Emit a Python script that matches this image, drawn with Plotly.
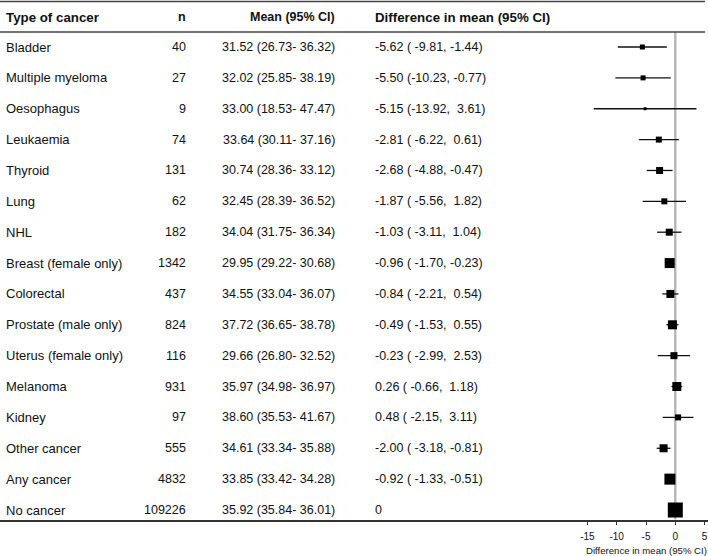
import plotly.graph_objects as go

cancer = ["Bladder", "Multiple myeloma", "Oesophagus", "Leukaemia", "Thyroid", "Lung", "NHL",
          "Breast (female only)", "Colorectal", "Prostate (male only)", "Uterus (female only)",
          "Melanoma", "Kidney", "Other cancer", "Any cancer", "No cancer"]
n = [40, 27, 9, 74, 131, 62, 182, 1342, 437, 824, 116, 931, 97, 555, 4832, 109226]
mean = [31.52, 32.02, 33.00, 33.64, 30.74, 32.45, 34.04, 29.95, 34.55, 37.72, 29.66, 35.97, 38.60, 34.61, 33.85, 35.92]
mean_lo = [26.73, 25.85, 18.53, 30.11, 28.36, 28.39, 31.75, 29.22, 33.04, 36.65, 26.80, 34.98, 35.53, 33.34, 33.42, 35.84]
mean_hi = [36.32, 38.19, 47.47, 37.16, 33.12, 36.52, 36.34, 30.68, 36.07, 38.78, 32.52, 36.97, 41.67, 35.88, 34.28, 36.01]
diff = [-5.62, -5.50, -5.15, -2.81, -2.68, -1.87, -1.03, -0.96, -0.84, -0.49, -0.23, 0.26, 0.48, -2.00, -0.92, 0.0]
diff_lo = [-9.81, -10.23, -13.92, -6.22, -4.88, -5.56, -3.11, -1.70, -2.21, -1.53, -2.99, -0.66, -2.15, -3.18, -1.33, 0.0]
diff_hi = [-1.44, -0.77, 3.61, 0.61, -0.47, 1.82, 1.04, -0.23, 0.54, 0.55, 2.53, 1.18, 3.11, -0.81, -0.51, 0.0]
tick_vals = [-15, -10, -5, 0, 5]
headers = ["Type of cancer", "n", "Mean (95% CI)", "Difference in mean (95% CI)"]
axis_title = "Difference in mean (95% CI)"

# style: marker sizes (px) reflecting weights
marker_px = [5, 5, 3, 6, 7, 6, 7, 10, 8, 9, 7, 9, 6, 8, 11, 15]

W, H = 708, 556
FONT = "Liberation Sans, Arial, sans-serif"
FS_NUM = 12.5
FS_TXT = 13
FS_HDR = 13.3
NB = "\u00a0"

rows = list(range(len(cancer)))
row_px = 30.867
y_top = -47 / row_px
plot_bottom_px = 519.5
y_bot = 15 + (plot_bottom_px - 510) / row_px

zero_px = 675.3
ppu = 29.3 / 5
x_left = -zero_px / ppu
x_right = (W - zero_px) / ppu


def px2paper_x(p):
    return p / W


def px2paper_y(p):
    return 1 - p / H


fig = go.Figure()

fig.add_trace(go.Scatter(
    x=diff, y=rows, mode="markers",
    marker=dict(symbol="square", size=marker_px, color="#000000", line=dict(width=0), opacity=1),
    error_x=dict(type="data", symmetric=False,
                 array=[h - d for d, h in zip(diff, diff_hi)],
                 arrayminus=[d - l for d, l in zip(diff, diff_lo)],
                 color="#111111", thickness=1.3, width=0),
    hoverinfo="skip", showlegend=False, cliponaxis=False,
))

shapes = []
shapes.append(dict(type="line", xref="x", yref="paper", x0=0, x1=0,
                   y0=px2paper_y(32), y1=px2paper_y(plot_bottom_px),
                   line=dict(color="#b3b3b3", width=2.3), layer="below"))
for ypx, x1 in [(1.5, 705), (32, 705)]:
    shapes.append(dict(type="line", xref="paper", yref="paper",
                       x0=0, x1=px2paper_x(x1), y0=px2paper_y(ypx), y1=px2paper_y(ypx),
                       line=dict(color="#444444", width=1.5)))

annotations = []


def txt(s, xpx, y, anchor, size, bold=False, yref="y"):
    s = s.replace(" ", NB)
    if bold:
        s = "<b>" + s + "</b>"
    annotations.append(dict(text=s, x=px2paper_x(xpx), xref="paper", y=y, yref=yref,
                            xanchor=anchor, yanchor="middle", showarrow=False,
                            font=dict(family=FONT, size=size, color="#111111")))


hy = y_top + 17 / row_px
txt(headers[0], 4, hy, "left", FS_HDR, bold=True)
txt(headers[1], 188, hy, "right", FS_NUM, bold=True)
txt(headers[2], 337, hy, "right", FS_NUM, bold=True)
txt(headers[3], 373, hy, "left", FS_HDR, bold=True)

for i in rows:
    txt(cancer[i], 4, i, "left", FS_TXT)
    txt(str(n[i]), 188, i, "right", FS_NUM)
    txt(f"{mean[i]:.2f} ({mean_lo[i]:.2f}- {mean_hi[i]:.2f})", 337, i, "right", FS_NUM)
    if i == len(cancer) - 1:
        txt(f"{diff[i]:.0f}", 373, i, "left", FS_NUM)
    else:
        txt(f"{diff[i]:.2f} ({diff_lo[i]:6.2f}, {diff_hi[i]:5.2f})", 373, i, "left", FS_NUM)

annotations.append(dict(text=axis_title, x=px2paper_x(646.5), xref="paper",
                        y=px2paper_y(550), yref="paper", xanchor="center", yanchor="middle",
                        showarrow=False, font=dict(family=FONT, size=9.6, color="#111111")))

fig.update_layout(
    width=W, height=H,
    margin=dict(l=0, r=0, t=0, b=0),
    paper_bgcolor="white", plot_bgcolor="white",
    shapes=shapes, annotations=annotations,
    xaxis=dict(domain=[0, 1], range=[x_left, x_right], tickvals=tick_vals,
               ticktext=[str(v) for v in tick_vals], ticklabeloverflow="allow",
               ticklabelstandoff=3,
               showgrid=False, zeroline=False, showline=True, linecolor="#333333", linewidth=1.5,
               ticks="outside", ticklen=4, tickwidth=1.3, tickcolor="#333333",
               tickfont=dict(family=FONT, size=10, color="#111111"), fixedrange=True),
    yaxis=dict(domain=[1 - plot_bottom_px / H, 1], range=[y_bot, y_top],
               showgrid=False, zeroline=False, showline=False, showticklabels=False,
               ticks="", fixedrange=True),
    font=dict(family=FONT),
)

fig.write_html("out.html", config={"displayModeBar": False},
               post_script="document.body.style.margin='0';document.body.style.overflow='hidden';")
